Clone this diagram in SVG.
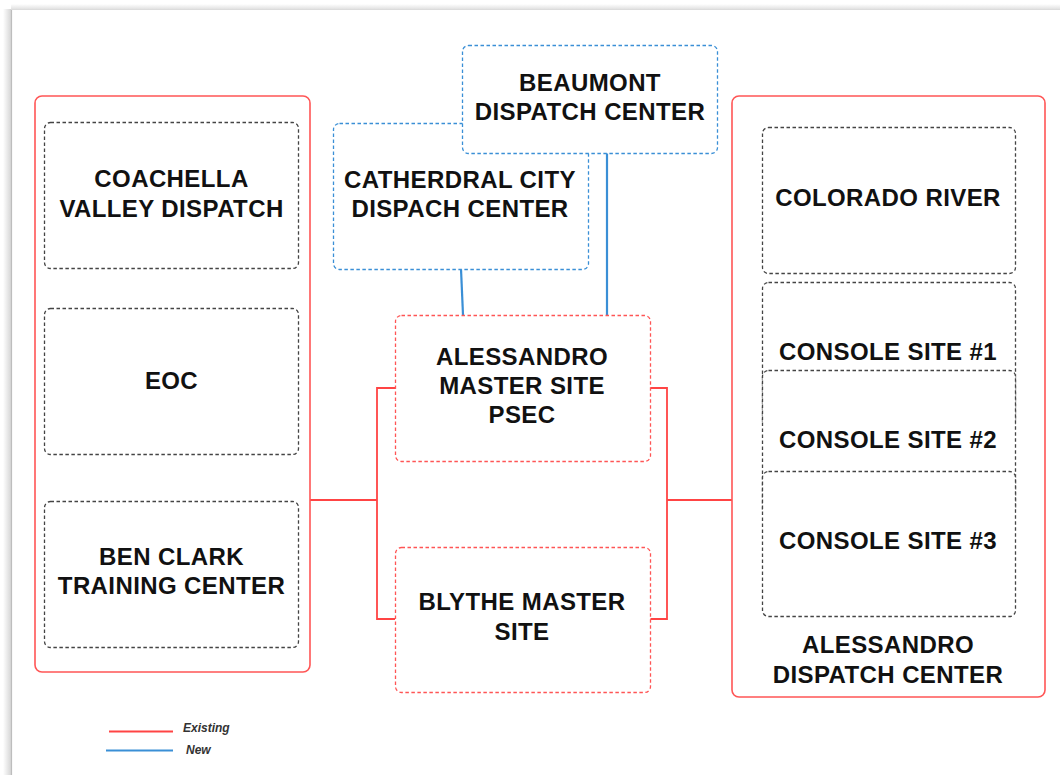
<svg xmlns="http://www.w3.org/2000/svg" width="1060" height="775" viewBox="0 0 1060 775">
  <style>
    .lbl { font-family: "Liberation Sans", Arial, sans-serif; font-weight: bold; font-size: 24px; letter-spacing: 0.4px; fill: #111; text-anchor: middle; }
    .leg { font-family: "Liberation Sans", Arial, sans-serif; font-weight: bold; font-style: italic; font-size: 12px; fill: #333; }
    .grp { fill: #fff; stroke: #f55; stroke-width: 1.6; }
    .site { fill: #fff; stroke: #444; stroke-width: 1.3; stroke-dasharray: 3.5 2.5; }
    .red { fill: #fff; stroke: #f55; stroke-width: 1.3; stroke-dasharray: 3.5 2.5; }
    .blue { fill: #fff; stroke: #3a8fd6; stroke-width: 1.3; stroke-dasharray: 3.5 2.5; }
    .wire-r { fill: none; stroke: #f44; stroke-width: 1.8; }
    .wire-b { fill: none; stroke: #3a8fd6; stroke-width: 2.2; }
  </style>
  <defs>
    <linearGradient id="edge" x1="0" x2="1" y1="0" y2="0">
      <stop offset="0" stop-color="#fff"/>
      <stop offset="1" stop-color="#d6d6d6"/>
    </linearGradient>
    <linearGradient id="edgeTop" x1="0" x2="0" y1="0" y2="1">
      <stop offset="0" stop-color="#fff"/>
      <stop offset="1" stop-color="#e2e2e2"/>
    </linearGradient>
  </defs>

  <!-- page sheet -->
  <rect x="0" y="0" width="1060" height="775" fill="#fff"/>
  <rect x="3" y="9" width="8" height="766" fill="url(#edge)"/>
  <rect x="11" y="4" width="1049" height="5" fill="url(#edgeTop)"/>
  <line x1="11.5" y1="9" x2="11.5" y2="775" stroke="#bdbdbd" stroke-width="1.2"/>
  <line x1="11" y1="9.5" x2="1060" y2="9.5" stroke="#dcdcdc" stroke-width="1"/>

  <!-- connectors -->
  <g id="connectors">
    <path class="wire-r" d="M310 500 H377 M395 388 H377 V619 H395"/>
    <path class="wire-r" d="M650 388 H667 V619 H650 M667 500 H733"/>
    <path class="wire-b" d="M461 269 L463 315"/>
    <path class="wire-b" d="M607 153 V315"/>
  </g>

  <!-- left group -->
  <g id="left-group">
    <rect class="grp" x="35" y="96" width="275" height="576" rx="7"/>
  </g>
  <g id="coachella">
    <rect class="site" x="44.5" y="122.5" width="254" height="146" rx="6"/>
    <text class="lbl" x="171.5" y="187">COACHELLA</text>
    <text class="lbl" x="171.5" y="216.5">VALLEY DISPATCH</text>
  </g>
  <g id="eoc">
    <rect class="site" x="44.5" y="308.5" width="254" height="146" rx="6"/>
    <text class="lbl" x="171.5" y="389">EOC</text>
  </g>
  <g id="ben-clark">
    <rect class="site" x="44.5" y="501.5" width="254" height="146" rx="6"/>
    <text class="lbl" x="171.5" y="565">BEN CLARK</text>
    <text class="lbl" x="171.5" y="594">TRAINING CENTER</text>
  </g>

  <!-- new dispatch centers -->
  <g id="cathedral-city">
    <rect class="blue" x="333.5" y="123.5" width="255" height="146" rx="6"/>
    <text class="lbl" x="460" y="188">CATHERDRAL CITY</text>
    <text class="lbl" x="460" y="217">DISPACH CENTER</text>
  </g>
  <g id="beaumont">
    <rect class="blue" x="462.5" y="45.5" width="255" height="108" rx="6"/>
    <text class="lbl" x="590" y="91">BEAUMONT</text>
    <text class="lbl" x="590" y="120">DISPATCH CENTER</text>
  </g>

  <!-- master sites -->
  <g id="alessandro-master">
    <rect class="red" x="395.5" y="315.5" width="255" height="146" rx="6"/>
    <text class="lbl" x="522" y="365">ALESSANDRO</text>
    <text class="lbl" x="522" y="394">MASTER SITE</text>
    <text class="lbl" x="522" y="423">PSEC</text>
  </g>
  <g id="blythe-master">
    <rect class="red" x="395.5" y="547.5" width="255" height="145" rx="6"/>
    <text class="lbl" x="522" y="610">BLYTHE MASTER</text>
    <text class="lbl" x="522" y="640">SITE</text>
  </g>

  <!-- right group -->
  <g id="alessandro-dispatch">
    <rect class="grp" x="732" y="96" width="313" height="601" rx="7"/>
    <text class="lbl" x="888" y="653">ALESSANDRO</text>
    <text class="lbl" x="888" y="683">DISPATCH CENTER</text>
  </g>
  <g id="colorado-river">
    <rect class="site" x="762.5" y="127.5" width="253" height="146" rx="6"/>
    <text class="lbl" x="888" y="206">COLORADO RIVER</text>
  </g>
  <g id="console-1">
    <rect class="site" x="762.5" y="282.5" width="253" height="145" rx="6"/>
    <text class="lbl" x="888" y="360">CONSOLE SITE #1</text>
  </g>
  <g id="console-2">
    <rect class="site" x="762.5" y="370.5" width="253" height="145" rx="6"/>
    <text class="lbl" x="888" y="448">CONSOLE SITE #2</text>
  </g>
  <g id="console-3">
    <rect class="site" x="762.5" y="471.5" width="253" height="145" rx="6"/>
    <text class="lbl" x="888" y="549">CONSOLE SITE #3</text>
  </g>

  <!-- legend -->
  <g id="legend">
    <line x1="109" y1="731.5" x2="173" y2="731.5" stroke="#f44" stroke-width="2"/>
    <text class="leg" x="183" y="732">Existing</text>
    <line x1="106" y1="750.5" x2="173" y2="750.5" stroke="#3a8fd6" stroke-width="2"/>
    <text class="leg" x="186" y="754">New</text>
  </g>
</svg>
